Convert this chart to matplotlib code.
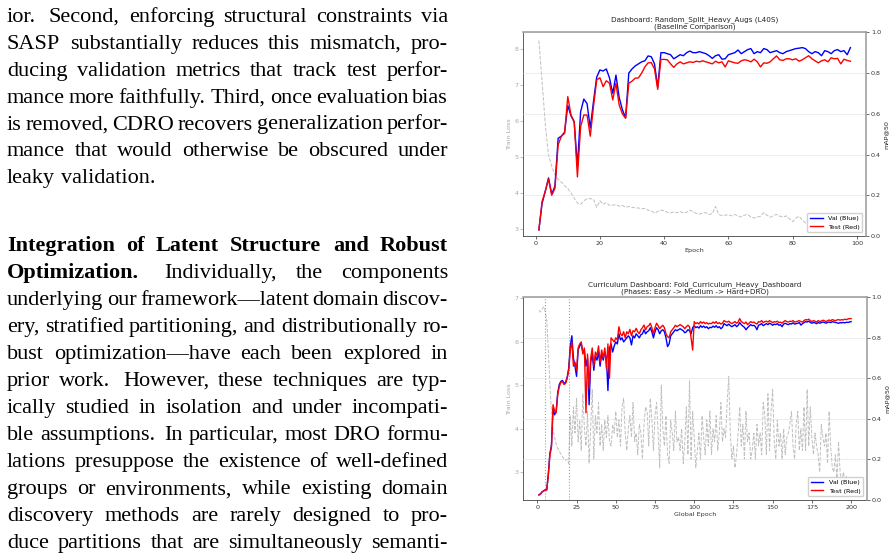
import numpy as np
import matplotlib.pyplot as plt

# ---- page text ----
para1_lines = [
    "ior.  Second, enforcing structural constraints via",
    "SASP substantially reduces this mismatch, pro-",
    "ducing validation metrics that track test perfor-",
    "mance more faithfully. Third, once evaluation bias",
    "is removed, CDRO recovers generalization perfor-",
    "mance that would otherwise be obscured under",
    "leaky validation.",
]
para2_lines = [
    "Integration of Latent Structure and Robust",
    "Optimization. Individually, the components",
    "underlying our framework\u2014latent domain discov-",
    "ery, stratified partitioning, and distributionally ro-",
    "bust optimization\u2014have each been explored in",
    "prior work.  However, these techniques are typ-",
    "ically studied in isolation and under incompati-",
    "ble assumptions. In particular, most DRO formu-",
    "lations presuppose the existence of well-defined",
    "groups or environments, while existing domain",
    "discovery methods are rarely designed to pro-",
    "duce partitions that are simultaneously semanti-",
]
para2_bold = [6, 1, 0, 0, 0, 0, 0, 0, 0, 0, 0, 0]

# ---- chart 1: Random_Split_Heavy_Augs ----
ep1 = np.arange(1, 99)
loss1 = [8.24, 7.1, 5.9, 5.05, 4.75, 4.5, 4.38, 4.3, 4.2, 4.12,
         4.0, 3.85, 3.72, 3.68, 3.78, 3.84, 3.84, 3.82, 3.6, 3.78,
         3.68, 3.73, 3.65, 3.66, 3.67, 3.63, 3.65, 3.6, 3.62, 3.6,
         3.58, 3.58, 3.56, 3.57, 3.52, 3.5, 3.44, 3.48, 3.52, 3.5,
         3.46, 3.44, 3.47, 3.45, 3.48, 3.44, 3.46, 3.52, 3.48, 3.43,
         3.41, 3.44, 3.45, 3.4, 3.42, 3.62, 3.4, 3.37, 3.38, 3.39,
         3.36, 3.4, 3.36, 3.33, 3.38, 3.4, 3.33, 3.3, 3.33, 3.35,
         3.45, 3.38, 3.32, 3.37, 3.4, 3.35, 3.33, 3.36, 3.28, 3.2,
         3.3, 3.35, 3.25, 3.16, 3.25, 3.3, 3.22, 3.2, 3.28, 3.18,
         3.22, 3.15, 3.2, 3.12, 3.18, 3.1, 3.14, 3.06]
val1 = [0.03, 0.16, 0.22, 0.285, 0.205, 0.245, 0.48, 0.49, 0.51, 0.64,
        0.59, 0.56, 0.34, 0.61, 0.672, 0.65, 0.53, 0.66, 0.78, 0.815,
        0.81, 0.82, 0.775, 0.70, 0.79, 0.68, 0.62, 0.58, 0.80, 0.82,
        0.835, 0.845, 0.855, 0.86, 0.884, 0.88, 0.845, 0.73, 0.90, 0.90,
        0.895, 0.89, 0.87, 0.88, 0.89, 0.885, 0.90, 0.908, 0.90, 0.90,
        0.905, 0.90, 0.895, 0.885, 0.872, 0.885, 0.89, 0.868, 0.87, 0.89,
        0.895, 0.90, 0.913, 0.895, 0.905, 0.915, 0.92, 0.895, 0.905, 0.90,
        0.92, 0.915, 0.90, 0.905, 0.91, 0.90, 0.895, 0.905, 0.91, 0.915,
        0.92, 0.922, 0.925, 0.92, 0.905, 0.895, 0.905, 0.90, 0.885, 0.91,
        0.905, 0.895, 0.91, 0.915, 0.905, 0.91, 0.89, 0.925]
test1 = [0.03, 0.17, 0.22, 0.28, 0.20, 0.234, 0.447, 0.49, 0.504, 0.684,
         0.594, 0.561, 0.29, 0.537, 0.594, 0.594, 0.49, 0.635, 0.766, 0.777,
         0.733, 0.762, 0.75, 0.668, 0.75, 0.643, 0.60, 0.578, 0.75, 0.76,
         0.775, 0.776, 0.80, 0.83, 0.85, 0.851, 0.82, 0.72, 0.867, 0.867,
         0.865, 0.845, 0.828, 0.845, 0.855, 0.845, 0.85, 0.855, 0.852, 0.858,
         0.855, 0.86, 0.855, 0.85, 0.845, 0.858, 0.85, 0.855, 0.83, 0.86,
         0.855, 0.85, 0.848, 0.86, 0.865, 0.862, 0.855, 0.868, 0.855, 0.83,
         0.85, 0.848, 0.855, 0.87, 0.884, 0.865, 0.862, 0.87, 0.87, 0.865,
         0.87, 0.858, 0.865, 0.875, 0.885, 0.87, 0.86, 0.85, 0.86, 0.865,
         0.855, 0.875, 0.87, 0.872, 0.845, 0.868, 0.862, 0.858]

# ---- chart 2: Fold_Curriculum_Heavy_Dashboard ----
ep2 = np.arange(1, 201)
phase_starts = [5, 20]
loss2 = [6.72, 6.68, 6.75, 6.8, 6.7, 6.5, 5.8, 5.0, 4.4, 4.0,
         3.8, 3.65, 3.55, 3.48, 3.42, 3.36, 3.3, 3.27, 3.3, 3.2,
         4.3, 3.6, 4.5, 3.9, 4.7, 3.7, 4.2, 3.5, 4.8, 4.0,
         3.6, 4.4, 3.2, 4.0, 4.9, 3.3, 4.3, 3.9, 4.6, 3.6,
         4.1, 3.5, 4.2, 3.8, 4.3, 3.7, 3.6, 4.1, 3.9, 4.4,
         3.8, 4.2, 3.6, 4.5, 4.7, 3.9, 3.5, 4.0, 4.3, 3.8,
         4.6, 3.7, 3.9, 3.4, 4.1, 3.9, 3.3, 4.1, 4.5, 4.4,
         3.6, 4.7, 4.2, 3.5, 4.3, 4.6, 3.9, 3.1, 5.0, 4.0,
         3.6, 4.3, 3.4, 3.2, 4.2, 3.9, 3.5, 4.4, 3.7, 3.8,
         3.5, 4.0, 3.2, 3.7, 4.5, 3.4, 5.1, 3.3, 4.4, 3.8,
         3.1, 3.5, 3.9, 3.3, 4.3, 3.8, 3.4, 4.2, 3.6, 4.4,
         3.4, 4.0, 3.7, 4.3, 3.5, 3.9, 4.6, 3.7, 4.0, 3.8,
         4.6, 5.2, 3.9, 3.3, 3.6, 3.1, 3.4, 3.9, 4.5, 3.6,
         4.1, 3.3, 4.4, 3.7, 3.9, 3.3, 3.5, 3.9, 3.3, 4.1,
         3.6, 3.9, 3.4, 4.6, 4.3, 3.4, 4.8, 3.5, 4.4, 4.9,
         3.7, 3.3, 4.2, 3.6, 3.9, 3.3, 4.0, 3.4, 3.8, 3.9,
         4.1, 4.4, 3.6, 3.3, 4.1, 4.4, 3.5, 4.0, 3.5, 4.5,
         3.5, 4.9, 3.6, 4.5, 3.8, 3.4, 3.9, 3.6, 3.4, 3.0,
         4.1, 3.8, 3.6, 3.9, 3.2, 4.4, 3.6, 3.1, 3.0, 3.4,
         2.8, 3.7, 3.0, 2.7, 3.0, 2.8, 2.9, 2.7, 2.6, 2.8]
val2 = [0.025, 0.03, 0.04, 0.045, 0.05, 0.05, 0.13, 0.23, 0.27, 0.45,
        0.42, 0.44, 0.53, 0.57, 0.585, 0.59, 0.575, 0.58, 0.605, 0.65,
        0.76, 0.81, 0.70, 0.66, 0.61, 0.74, 0.76, 0.77, 0.73, 0.74,
        0.66, 0.70, 0.47, 0.68, 0.72, 0.64, 0.71, 0.69, 0.73, 0.66,
        0.72, 0.69, 0.73, 0.70, 0.54, 0.75, 0.77, 0.73, 0.76, 0.78,
        0.77, 0.82, 0.79, 0.80, 0.78, 0.79, 0.80, 0.81, 0.80, 0.765,
        0.81, 0.80, 0.82, 0.81, 0.80, 0.815, 0.82, 0.84, 0.82, 0.83,
        0.835, 0.85, 0.83, 0.80, 0.83, 0.85, 0.84, 0.82, 0.835, 0.84,
        0.83, 0.80, 0.757, 0.77, 0.81, 0.82, 0.83, 0.84, 0.835, 0.84,
        0.845, 0.84, 0.835, 0.825, 0.83, 0.84, 0.835, 0.82, 0.85, 0.86,
        0.85, 0.855, 0.848, 0.86, 0.852, 0.858, 0.85, 0.855, 0.845, 0.852,
        0.85, 0.858, 0.852, 0.86, 0.85, 0.855, 0.845, 0.852, 0.87, 0.865,
        0.86, 0.868, 0.86, 0.855, 0.86, 0.865, 0.855, 0.862, 0.875, 0.865,
        0.858, 0.852, 0.84, 0.85, 0.858, 0.865, 0.86, 0.862, 0.855, 0.84,
        0.862, 0.865, 0.87, 0.86, 0.865, 0.87, 0.865, 0.872, 0.868, 0.862,
        0.868, 0.865, 0.87, 0.862, 0.865, 0.855, 0.868, 0.872, 0.868, 0.865,
        0.87, 0.868, 0.874, 0.868, 0.87, 0.872, 0.875, 0.863, 0.87, 0.875,
        0.88, 0.878, 0.882, 0.876, 0.872, 0.876, 0.874, 0.87, 0.876, 0.872,
        0.875, 0.878, 0.876, 0.872, 0.876, 0.878, 0.875, 0.88, 0.878, 0.876,
        0.874, 0.872, 0.875, 0.874, 0.876, 0.874, 0.877, 0.876, 0.878, 0.88]
test2 = [0.025, 0.03, 0.04, 0.045, 0.05, 0.05, 0.12, 0.22, 0.26, 0.47,
         0.44, 0.43, 0.52, 0.56, 0.58, 0.585, 0.57, 0.575, 0.60, 0.64,
         0.74, 0.78, 0.66, 0.68, 0.64, 0.75, 0.77, 0.78, 0.72, 0.75,
         0.43, 0.72, 0.55, 0.70, 0.75, 0.66, 0.73, 0.71, 0.76, 0.68,
         0.74, 0.70, 0.75, 0.65, 0.77, 0.60, 0.80, 0.79, 0.78, 0.80,
         0.79, 0.855, 0.82, 0.81, 0.83, 0.80, 0.83, 0.82, 0.842, 0.81,
         0.835, 0.83, 0.847, 0.83, 0.82, 0.84, 0.85, 0.863, 0.84, 0.855,
         0.86, 0.872, 0.85, 0.82, 0.85, 0.872, 0.86, 0.845, 0.855, 0.862,
         0.85, 0.82, 0.806, 0.80, 0.83, 0.84, 0.85, 0.862, 0.855, 0.86,
         0.865, 0.86, 0.855, 0.845, 0.855, 0.862, 0.855, 0.80, 0.74, 0.88,
         0.87, 0.875, 0.868, 0.88, 0.872, 0.878, 0.87, 0.875, 0.868, 0.872,
         0.87, 0.878, 0.872, 0.88, 0.87, 0.875, 0.868, 0.872, 0.885, 0.88,
         0.878, 0.882, 0.875, 0.87, 0.875, 0.88, 0.872, 0.878, 0.895, 0.88,
         0.875, 0.87, 0.878, 0.865, 0.872, 0.88, 0.875, 0.878, 0.872, 0.868,
         0.88, 0.878, 0.885, 0.875, 0.88, 0.882, 0.878, 0.885, 0.88, 0.875,
         0.88, 0.878, 0.882, 0.875, 0.878, 0.872, 0.88, 0.885, 0.88, 0.878,
         0.882, 0.88, 0.885, 0.878, 0.88, 0.882, 0.885, 0.88, 0.878, 0.885,
         0.89, 0.888, 0.892, 0.885, 0.88, 0.885, 0.882, 0.878, 0.885, 0.88,
         0.883, 0.887, 0.884, 0.88, 0.885, 0.888, 0.884, 0.89, 0.887, 0.885,
         0.888, 0.89, 0.887, 0.89, 0.888, 0.892, 0.89, 0.893, 0.895, 0.895]

W, H = 895, 553
fig = plt.figure(figsize=(W / 100, H / 100), dpi=100)
renderer = fig.canvas.get_renderer()

SERIF = 'Liberation Serif'
TEXT_L, TEXT_R = 7, 448
MIN_GAP = 3.5


def word_width(word, weight, size):
    t = fig.text(0, 0, word, fontsize=size, family=SERIF, weight=weight)
    w = t.get_window_extent(renderer).width
    t.remove()
    return w


def split_line(line, nbold):
    words = line.split()
    weights = ['bold' if i < nbold else 'normal' for i in range(len(words))]
    return words, weights


# one font size for the whole column, as large as the tightest line allows
all_lines = [split_line(l, 0) for l in para1_lines] + \
    [split_line(l, b) for l, b in zip(para2_lines, para2_bold)]
fs = 16.0
for words, weights in all_lines:
    tot = sum(word_width(w, wt, 10) for w, wt in zip(words, weights))
    fs = min(fs, 10 * (TEXT_R - TEXT_L - (len(words) - 1) * MIN_GAP) / tot)


def set_line(words, weights, y, justify):
    widths = [word_width(w, wt, fs) for w, wt in zip(words, weights)]
    stretch = [1.4 if w.endswith('.') else 1.0 for w in words[:-1]]
    if justify and len(words) > 1:
        unit = (TEXT_R - TEXT_L - sum(widths)) / sum(stretch)
    else:
        unit = 0.25 * fs * 100 / 72
    x = TEXT_L
    for i, (w, wt) in enumerate(zip(words, weights)):
        fig.text(x / W, 1 - y / H, w, fontsize=fs, family=SERIF, weight=wt,
                 ha='left', va='baseline', color='black')
        x += widths[i] + (unit * stretch[i] if i < len(stretch) else 0)


for i, line in enumerate(para1_lines):
    words, weights = split_line(line, 0)
    set_line(words, weights, 21.7 + 26.95 * i, i < len(para1_lines) - 1)
for i, (line, b) in enumerate(zip(para2_lines, para2_bold)):
    words, weights = split_line(line, b)
    set_line(words, weights, 250.7 + 27.05 * i, True)

# ---- dashboards ----
TICK_FS = 4.6
LIGHT = '#a8a8a8'


def panel(box, ep, loss, val, test, title, xlabel, loss_lim, xticks, phases=()):
    l, t, r, b = box
    ax1 = fig.add_axes([l / W, 1 - b / H, (r - l) / W, (b - t) / H])
    ax1.plot(ep, loss, color='gray', ls='--', lw=0.7, alpha=0.5)
    for p in phases:
        ax1.axvline(p, color='#4caf50', ls=':', lw=0.8, alpha=0.8)
    ax1.set_ylim(*loss_lim)
    ax1.set_xticks(xticks)
    ax1.set_xlabel(xlabel, fontsize=TICK_FS, labelpad=1.5, color='#333333')
    ax1.set_ylabel('Train Loss', fontsize=TICK_FS, labelpad=2, color=LIGHT)
    ax1.tick_params(axis='x', labelsize=TICK_FS, length=2, width=0.5, pad=1.5,
                    colors='#333333')
    ax1.tick_params(axis='y', labelsize=TICK_FS, length=2, width=0.5, pad=1.5,
                    colors=LIGHT)
    for s in ['left', 'bottom']:
        ax1.spines[s].set_linewidth(0.6)
        ax1.spines[s].set_color('#444444')
    ax1.spines['top'].set_visible(False)
    ax1.spines['right'].set_visible(False)
    ax1.set_title(title, fontsize=5.2, pad=2.5, color='#222222')

    ax2 = ax1.twinx()
    ax2.plot(ep, val, color='blue', lw=1.0, label='Val (Blue)')
    ax2.plot(ep, test, color='red', lw=1.0, label='Test (Red)')
    ax2.set_ylim(0, 1)
    ax2.set_ylabel('mAP@50', fontsize=TICK_FS, labelpad=2, color='#222222')
    ax2.tick_params(axis='y', labelsize=TICK_FS, length=2, width=0.5, pad=1.5,
                    colors='#333333')
    ax2.grid(axis='y', color='#dddddd', lw=0.6, alpha=0.6)
    for s in ['top', 'right']:
        ax2.spines[s].set_linewidth(1.1)
        ax2.spines[s].set_color('#999999')
    ax2.spines['left'].set_visible(False)
    ax2.spines['bottom'].set_visible(False)
    ax2.legend(loc='lower right', fontsize=TICK_FS, borderaxespad=0.6,
               handlelength=2.0, framealpha=0.9)
    return ax1, ax2


panel((523.3, 32.3, 866, 236), ep1, loss1, val1, test1,
      'Dashboard: Random_Split_Heavy_Augs (L40S)\n(Baseline Comparison)',
      'Epoch', (2.80, 8.47), np.arange(0, 101, 20))
panel((523.3, 297.3, 866.7, 500), ep2, loss2, val2, test2,
      'Curriculum Dashboard: Fold_Curriculum_Heavy_Dashboard\n'
      '(Phases: Easy -> Medium -> Hard+DRO)',
      'Global Epoch', (2.36, 7.02), np.arange(0, 201, 25), phase_starts)

fig.savefig('out.png', dpi=100)
